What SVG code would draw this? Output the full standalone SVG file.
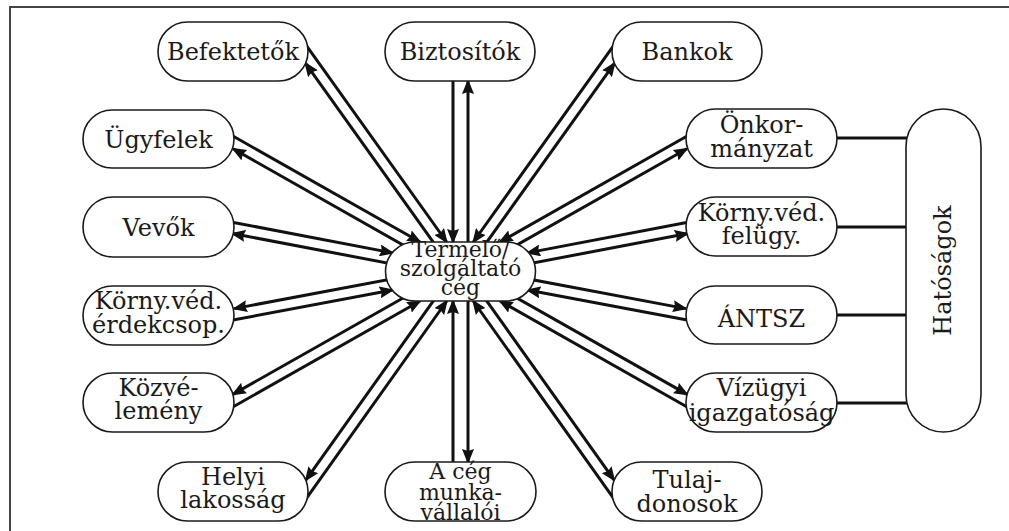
<svg xmlns="http://www.w3.org/2000/svg" width="1009" height="531" viewBox="0 0 1009 531">
<style>
.n{fill:#fff;stroke:#1a1a1a;stroke-width:1.6}
.t{font-family:"DejaVu Serif","Liberation Serif",serif;font-size:24px;fill:#1a1a1a;text-anchor:middle}
.tc{font-family:"DejaVu Serif","Liberation Serif",serif;font-size:22px;fill:#1a1a1a;text-anchor:middle}
.a{stroke:#111;stroke-width:3;fill:none;marker-end:url(#ah)}
.h{stroke:#111;stroke-width:3;fill:none}
</style>
<defs>
<marker id="ah" markerUnits="userSpaceOnUse" markerWidth="16" markerHeight="12" refX="13" refY="6" orient="auto">
<path d="M0,0 L15,6 L0,12 L2,6 z" fill="#111"/>
</marker>
<clipPath id="cb"><rect x="380" y="440" width="160" height="81"/></clipPath>
</defs>
<rect width="1009" height="531" fill="#fff"/>
<path d="M10,531 V7 H1009" fill="none" stroke="#444" stroke-width="2"/>
<g id="connectors">
<line class="a" x1="305.7" y1="44.7" x2="446.7" y2="242"/>
<line class="a" x1="456.5" y1="274.7" x2="305.4" y2="63.2"/>
<line class="a" x1="228" y1="133.3" x2="420.1" y2="242"/>
<line class="a" x1="458.3" y1="276.3" x2="233.1" y2="148.8"/>
<line class="a" x1="224.2" y1="220.7" x2="392.6" y2="252.9"/>
<line class="a" x1="460" y1="276.9" x2="232.3" y2="233.5"/>
<line class="a" x1="226.2" y1="321.3" x2="392.5" y2="290"/>
<line class="a" x1="460" y1="266.1" x2="234.2" y2="308.6"/>
<line class="a" x1="228" y1="409.7" x2="420.1" y2="301"/>
<line class="a" x1="458.3" y1="266.7" x2="232.8" y2="394.4"/>
<line class="a" x1="305.7" y1="499.3" x2="446.8" y2="301"/>
<line class="a" x1="456.5" y1="268.3" x2="305.8" y2="480.2"/>
<line class="a" x1="453" y1="75" x2="453" y2="242"/>
<line class="a" x1="468" y1="265" x2="468" y2="81"/>
<line class="a" x1="453" y1="468" x2="453" y2="301"/>
<line class="a" x1="468" y1="280" x2="468" y2="462"/>
<line class="a" x1="614.3" y1="44.7" x2="473.3" y2="242"/>
<line class="a" x1="463.5" y1="274.7" x2="614.6" y2="63.2"/>
<line class="a" x1="692" y1="133.3" x2="499.9" y2="242"/>
<line class="a" x1="461.7" y1="276.3" x2="686.9" y2="148.8"/>
<line class="a" x1="695.8" y1="220.7" x2="527.4" y2="252.9"/>
<line class="a" x1="460" y1="276.9" x2="687.7" y2="233.5"/>
<line class="a" x1="693.8" y1="321.3" x2="527.5" y2="290"/>
<line class="a" x1="460" y1="266.1" x2="685.8" y2="308.6"/>
<line class="a" x1="692" y1="409.7" x2="499.9" y2="301"/>
<line class="a" x1="461.7" y1="266.7" x2="687.2" y2="394.4"/>
<line class="a" x1="614.3" y1="499.3" x2="473.2" y2="301"/>
<line class="a" x1="463.5" y1="268.3" x2="614.2" y2="480.2"/>
<line class="h" x1="830" y1="138" x2="907" y2="138"/>
<line class="h" x1="830" y1="227" x2="907" y2="227"/>
<line class="h" x1="830" y1="315" x2="907" y2="315"/>
<line class="h" x1="830" y1="403" x2="907" y2="403"/>
</g>
<g id="befektetok"><rect class="n" x="158" y="22" width="150" height="59" rx="29.5"/><text class="t" x="233" y="60">Befektetők</text></g>
<g id="biztositok"><rect class="n" x="385" y="22" width="150" height="59" rx="29.5"/><text class="t" x="460" y="60">Biztosítók</text></g>
<g id="bankok"><rect class="n" x="612" y="22" width="150" height="59" rx="29.5"/><text class="t" x="687" y="60">Bankok</text></g>
<g id="ugyfelek"><rect class="n" x="83" y="110" width="151" height="58" rx="29"/><text class="t" x="158.5" y="148">Ügyfelek</text></g>
<g id="onkormanyzat"><rect class="n" x="686" y="109" width="151" height="59" rx="29.5"/><text class="t" x="761.5" y="133">Önkor-</text><text class="t" x="761.5" y="157">mányzat</text></g>
<g id="vevok"><rect class="n" x="83" y="197" width="151" height="60" rx="30"/><text class="t" x="158.5" y="235.5">Vevők</text></g>
<g id="kornyved-felugy"><rect class="n" x="686" y="197" width="151" height="59" rx="29.5"/><text class="t" x="761.5" y="220.5">Körny.véd.</text><text class="t" x="761.5" y="244">felügy.</text></g>
<g id="kornyved-erdekcsop"><rect class="n" x="83" y="286" width="151" height="59" rx="29.5"/><text class="t" x="158.5" y="309">Körny.véd.</text><text class="t" x="158.5" y="332.5">érdekcsop.</text></g>
<g id="antsz"><rect class="n" x="686" y="286" width="151" height="58" rx="29"/><text class="t" x="761.5" y="327">ÁNTSZ</text></g>
<g id="kozvelemeny"><rect class="n" x="83" y="373" width="151" height="59" rx="29.5"/><text class="t" x="158.5" y="395.5">Közvé-</text><text class="t" x="158.5" y="419">lemény</text></g>
<g id="vizugyi"><rect class="n" x="686" y="373" width="151" height="59" rx="29.5"/><text class="t" x="761.5" y="395.5">Vízügyi</text><text class="t" x="761.5" y="421">igazgatóság</text></g>
<g id="helyi-lakossag"><rect class="n" x="158" y="462" width="150" height="59" rx="29.5"/><text class="t" x="233" y="485">Helyi</text><text class="t" x="233" y="508">lakosság</text></g>
<g id="munkavallaloi"><rect class="n" x="385" y="462" width="151" height="59" rx="29.5"/><g clip-path="url(#cb)"><text class="tc" x="460.5" y="479" font-size="23">A cég</text><text class="tc" x="460.5" y="499.5" font-size="23">munka-</text><text class="tc" x="460.5" y="520" font-size="23">vállalói</text></g></g>
<g id="tulajdonosok"><rect class="n" x="612" y="462" width="150" height="59" rx="29.5"/><text class="t" x="687" y="487.5">Tulaj-</text><text class="t" x="687" y="511.5">donosok</text></g>
<g id="termelo"><rect class="n" x="385.5" y="242" width="150" height="59" rx="29.5"/><text class="tc" x="460.5" y="257">Termelő/</text><text class="tc" x="460.5" y="276">szolgáltató</text><text class="tc" x="460.5" y="295">cég</text></g>
<g id="hatosagok"><rect class="n" x="906" y="109" width="75" height="323" rx="37.5"/><text class="t" transform="translate(951,270.5) rotate(-90)">Hatóságok</text></g>
</svg>
